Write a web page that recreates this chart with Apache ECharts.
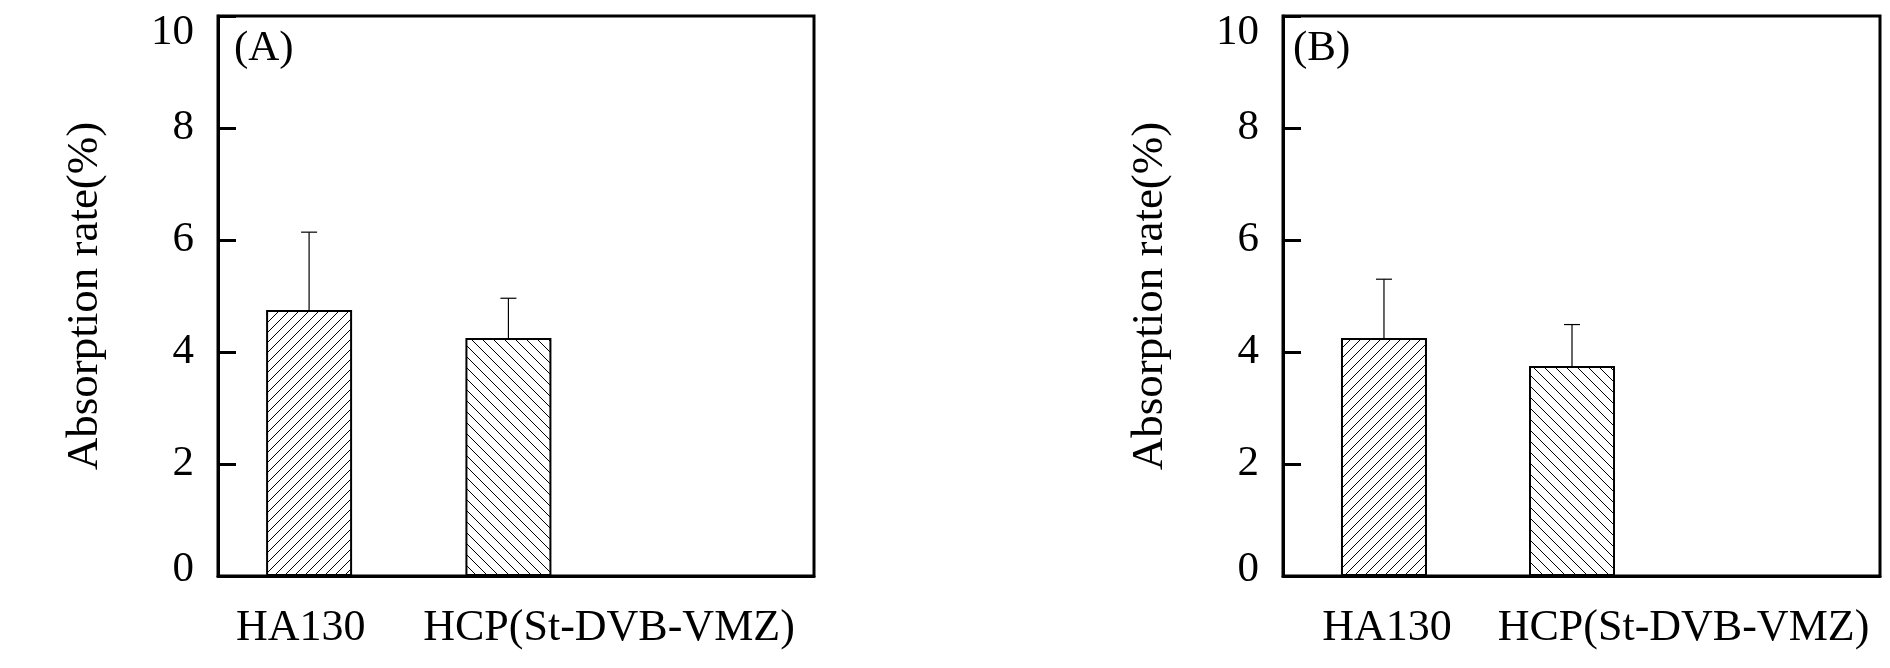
<!DOCTYPE html>
<html>
<head>
<meta charset="utf-8">
<script src="https://cdn.jsdelivr.net/npm/echarts@6/dist/echarts.min.js"></script>
<style>html,body{margin:0;padding:0;background:#fff}#c{width:1890px;height:668px}</style>
</head>
<body>
<div id="c"></div>
<script>
const categories = ['HA130', 'HCP(St-DVB-VMZ)'];
const xPos = [1, 2];
const meanA = [4.75, 4.25];
const errA = [1.39, 0.71];
const meanB = [4.25, 3.75];
const errB = [1.05, 0.74];
const yTicks = [0, 2, 4, 6, 8, 10];
const panelLabels = ['(A)', '(B)'];
const yTitle = 'Absorption rate(%)';

const FONT = '"Liberation Serif", "Times New Roman", serif';

function hatch(dir, step) {
  const c = document.createElement('canvas');
  c.width = step; c.height = step;
  const g = c.getContext('2d');
  g.strokeStyle = '#000';
  g.lineWidth = 1;
  g.beginPath();
  if (dir === '/') {
    g.moveTo(0, step); g.lineTo(step, 0);
    g.moveTo(-2, 2); g.lineTo(2, -2);
    g.moveTo(step - 2, step + 2); g.lineTo(step + 2, step - 2);
  } else {
    g.moveTo(0, 0); g.lineTo(step, step);
    g.moveTo(-2, step - 2); g.lineTo(2, step + 2);
    g.moveTo(step - 2, -2); g.lineTo(step + 2, 2);
  }
  g.stroke();
  return { image: c, repeat: 'repeat' };
}
const patterns = [hatch('/', 10), hatch('\\', 11)];

const grids = [
  { left: 218, top: 16, width: 596, height: 560, xmin: 0.543, xmax: 3.533, shifts: [[0, 33, 0, 0], [0, 0, 0, 186]] },
  { left: 1283, top: 16, width: 597, height: 560, xmin: 0.463, xmax: 3.638, shifts: [[0, 0, 0, 9], [0, 0, 0, 204]] }
];
const means = [meanA, meanB];
const errs = [errA, errB];

const option = {
  backgroundColor: '#fff',
  animation: false,
  title: panelLabels.map((t, i) => ({
    text: t, left: grids[i].left + (i === 0 ? 16 : 10), top: 27, padding: 0,
    textStyle: { fontFamily: FONT, fontSize: 43, fontWeight: 'normal', color: '#000' }
  })),
  grid: grids.map(g => ({
    left: g.left, top: g.top, width: g.width, height: g.height,
    show: true, borderColor: '#000', borderWidth: 3, backgroundColor: 'transparent', containLabel: false
  })),
  xAxis: [].concat(...grids.map((g, i) => ([
    {
      type: 'value', gridIndex: i, min: g.xmin, max: g.xmax,
      axisLine: { show: true, onZero: false, lineStyle: { color: '#000', width: 3 } },
      axisTick: { show: false }, axisLabel: { show: false }, splitLine: { show: false }
    },
    {
      type: 'category', gridIndex: i, position: 'bottom', data: categories.concat(['']),
      boundaryGap: true,
      axisLine: { show: false }, axisTick: { show: false }, splitLine: { show: false },
      axisLabel: {
        interval: 0, margin: 30, color: '#000', fontFamily: FONT, fontSize: 44,
        formatter: (v, idx) => v ? '{l' + idx + '|' + v + '}' : '',
        rich: {
          l0: { fontFamily: FONT, fontSize: 44, color: '#000', padding: g.shifts[0] },
          l1: { fontFamily: FONT, fontSize: 44, color: '#000', padding: g.shifts[1] }
        }
      }
    }
  ]))),
  yAxis: grids.map((g, i) => ({
    type: 'value', gridIndex: i, min: yTicks[0], max: yTicks[yTicks.length - 1], interval: 2,
    name: yTitle, nameLocation: 'middle', nameGap: 110,
    nameTextStyle: { fontFamily: FONT, fontSize: 45, color: '#000' },
    axisLine: { show: true, lineStyle: { color: '#000', width: 3 } },
    axisTick: { show: true, inside: true, length: 18, lineStyle: { color: '#000', width: 3 } },
    splitLine: { show: false },
    axisLabel: {
      margin: 24, color: '#000', fontFamily: FONT, fontSize: 43,
      formatter: v => v === 10 ? '{t|10}' : (v === 0 ? '{b|0}' : '{n|' + v + '}'),
      rich: {
        t: { fontFamily: FONT, fontSize: 43, color: '#000', padding: [34, 0, 0, 0] },
        b: { fontFamily: FONT, fontSize: 43, color: '#000', padding: [0, 0, 12, 0] },
        n: { fontFamily: FONT, fontSize: 43, color: '#000' }
      }
    }
  })),
  series: [].concat(...grids.map((g, i) => ([
    {
      type: 'bar', xAxisIndex: i * 2, yAxisIndex: i, barWidth: 86,
      data: xPos.map((x, k) => ({
        value: [x, means[i][k]],
        itemStyle: { color: patterns[k], borderColor: '#000', borderWidth: 2 }
      }))
    },
    {
      type: 'custom', xAxisIndex: i * 2, yAxisIndex: i,
      data: xPos.map((x, k) => [x, means[i][k], errs[i][k]]),
      encode: { x: 0, y: 1 },
      z: 5,
      renderItem: (params, api) => {
        const x = api.value(0), m = api.value(1), e = api.value(2);
        const p0 = api.coord([x, m]);
        const p1 = api.coord([x, m + e]);
        const cap = 8;
        return {
          type: 'group',
          children: [
            { type: 'line', shape: { x1: p0[0], y1: p0[1], x2: p1[0], y2: p1[1] }, style: { stroke: '#000', lineWidth: 1.2 } },
            { type: 'line', shape: { x1: p1[0] - cap, y1: p1[1], x2: p1[0] + cap, y2: p1[1] }, style: { stroke: '#000', lineWidth: 1.2 } }
          ]
        };
      }
    }
  ])))
};

const chart = echarts.init(document.getElementById('c'), null, { renderer: 'canvas' });
chart.setOption(option);
</script>
</body>
</html>
